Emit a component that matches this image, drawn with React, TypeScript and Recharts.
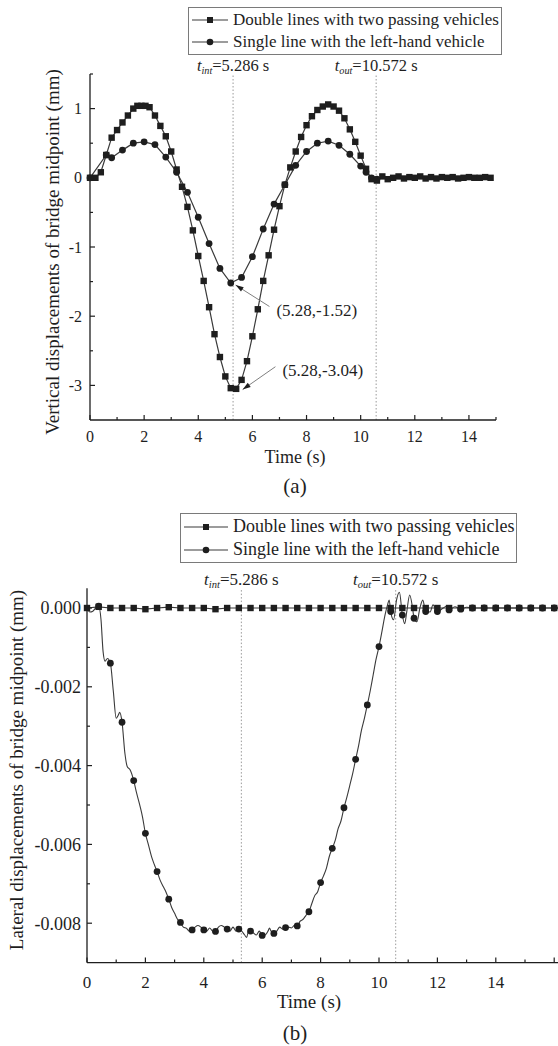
import React from 'react';
import { LineChart, Line, XAxis, YAxis, ReferenceLine, Legend } from 'recharts';

const INK = '#1e1e1e';
const LINE = '#3a3a3a';
const FONT = '"Liberation Serif", "Times New Roman", serif';

const seriesNames = ['Double lines with two passing vehicles', 'Single line with the left-hand vehicle'];
const tIn = 5.286;
const tOut = 10.572;

// (a) vertical displacement of bridge midpoint, mm
const doubleA = [
  { t: 0, v: 0 }, { t: 0.2, v: 0 }, { t: 0.4, v: 0.08 }, { t: 0.6, v: 0.33 }, { t: 0.8, v: 0.58 },
  { t: 1.0, v: 0.69 }, { t: 1.2, v: 0.8 }, { t: 1.4, v: 0.9 }, { t: 1.6, v: 1.0 }, { t: 1.75, v: 1.04 },
  { t: 1.9, v: 1.04 }, { t: 2.05, v: 1.04 }, { t: 2.2, v: 1.02 }, { t: 2.4, v: 0.9 }, { t: 2.6, v: 0.75 },
  { t: 2.8, v: 0.6 }, { t: 3.0, v: 0.38 }, { t: 3.2, v: 0.12 }, { t: 3.4, v: -0.13 }, { t: 3.6, v: -0.42 },
  { t: 3.8, v: -0.76 }, { t: 4.0, v: -1.13 }, { t: 4.2, v: -1.49 }, { t: 4.4, v: -1.87 }, { t: 4.6, v: -2.26 },
  { t: 4.8, v: -2.59 }, { t: 5.0, v: -2.87 }, { t: 5.2, v: -3.04 }, { t: 5.4, v: -3.05 }, { t: 5.6, v: -2.92 },
  { t: 5.8, v: -2.65 }, { t: 6.0, v: -2.29 }, { t: 6.2, v: -1.9 }, { t: 6.4, v: -1.49 }, { t: 6.6, v: -1.12 },
  { t: 6.8, v: -0.75 }, { t: 7.0, v: -0.41 }, { t: 7.2, v: -0.1 }, { t: 7.4, v: 0.15 }, { t: 7.6, v: 0.38 },
  { t: 7.8, v: 0.59 }, { t: 8.0, v: 0.76 }, { t: 8.2, v: 0.89 }, { t: 8.4, v: 0.98 }, { t: 8.6, v: 1.03 },
  { t: 8.8, v: 1.06 }, { t: 9.0, v: 1.03 }, { t: 9.2, v: 0.97 }, { t: 9.4, v: 0.86 }, { t: 9.6, v: 0.7 },
  { t: 9.8, v: 0.52 }, { t: 10.0, v: 0.32 }, { t: 10.2, v: 0.13 }, { t: 10.4, v: -0.02 }, { t: 10.6, v: -0.04 },
  { t: 10.8, v: 0.02 }, { t: 11.0, v: -0.02 }, { t: 11.2, v: 0 }, { t: 11.4, v: 0.02 }, { t: 11.6, v: -0.01 },
  { t: 11.8, v: 0.01 }, { t: 12.0, v: 0 }, { t: 12.2, v: 0.02 }, { t: 12.4, v: -0.01 }, { t: 12.6, v: 0.01 },
  { t: 12.8, v: -0.01 }, { t: 13.0, v: 0.01 }, { t: 13.2, v: 0 }, { t: 13.4, v: 0.01 }, { t: 13.6, v: -0.01 },
  { t: 13.8, v: 0 }, { t: 14.0, v: 0.01 }, { t: 14.2, v: 0 }, { t: 14.4, v: 0 }, { t: 14.6, v: 0.01 },
  { t: 14.8, v: 0 },
];

const singleA = [
  { t: 0, v: 0 }, { t: 0.6, v: 0.33 }, { t: 0.8, v: 0.29 }, { t: 1.2, v: 0.4 }, { t: 1.6, v: 0.5 },
  { t: 2.0, v: 0.52 }, { t: 2.4, v: 0.48 }, { t: 2.8, v: 0.3 }, { t: 3.2, v: 0.08 }, { t: 3.6, v: -0.21 },
  { t: 4.0, v: -0.57 }, { t: 4.4, v: -0.95 }, { t: 4.8, v: -1.31 }, { t: 5.2, v: -1.52 }, { t: 5.6, v: -1.44 },
  { t: 6.0, v: -1.14 }, { t: 6.4, v: -0.74 }, { t: 6.8, v: -0.38 }, { t: 7.2, v: -0.1 }, { t: 7.6, v: 0.18 },
  { t: 8.0, v: 0.38 }, { t: 8.4, v: 0.5 }, { t: 8.8, v: 0.53 }, { t: 9.2, v: 0.47 }, { t: 9.6, v: 0.34 },
  { t: 10.0, v: 0.17 }, { t: 10.2, v: 0.08 }, { t: 10.4, v: 0 }, { t: 10.6, v: -0.02 },
];

// (b) lateral displacement of bridge midpoint, mm
const doubleB = [
  { t: 0, v: 0 }, { t: 0.4, v: 0.00003 }, { t: 0.8, v: 0 }, { t: 1.2, v: 0 }, { t: 1.6, v: 0 },
  { t: 2.0, v: -0.00003 }, { t: 2.4, v: 0 }, { t: 2.8, v: 0.00002 }, { t: 3.2, v: 0 }, { t: 3.6, v: 0 },
  { t: 4.0, v: 0 }, { t: 4.4, v: -0.00003 }, { t: 4.8, v: 0 }, { t: 5.2, v: 0 }, { t: 5.6, v: 0 },
  { t: 6.0, v: 0 }, { t: 6.4, v: 0 }, { t: 6.8, v: 0 }, { t: 7.2, v: 0 }, { t: 7.6, v: 0 },
  { t: 8.0, v: 0 }, { t: 8.4, v: 0 }, { t: 8.8, v: 0 }, { t: 9.2, v: 0 }, { t: 9.6, v: 0 },
  { t: 10.0, v: 0 }, { t: 10.4, v: 0 }, { t: 10.8, v: 0 }, { t: 11.2, v: 0 }, { t: 11.6, v: 0 },
  { t: 12.0, v: 0 }, { t: 12.4, v: 0 }, { t: 12.8, v: 0 }, { t: 13.2, v: 0 }, { t: 13.6, v: 0 },
  { t: 14.0, v: 0 }, { t: 14.4, v: 0 }, { t: 14.8, v: 0 }, { t: 15.2, v: 0 }, { t: 15.6, v: 0 },
  { t: 16.0, v: 0 }, { t: 16.4, v: 0 },
];

const singleTraceB = [
  { t: 0, v: 0 }, { t: 0.1, v: -0.0001 }, { t: 0.2, v: -0.00008 }, { t: 0.3, v: 0 }, { t: 0.4, v: 0.00005 },
  { t: 0.48, v: -0.0003 }, { t: 0.55, v: -0.0011 }, { t: 0.62, v: -0.00135 }, { t: 0.7, v: -0.00128 },
  { t: 0.8, v: -0.0014 }, { t: 0.9, v: -0.0021 }, { t: 1.0, v: -0.0028 }, { t: 1.07, v: -0.00272 },
  { t: 1.12, v: -0.00265 }, { t: 1.2, v: -0.0029 }, { t: 1.3, v: -0.0037 }, { t: 1.38, v: -0.00403 },
  { t: 1.47, v: -0.0041 }, { t: 1.6, v: -0.00438 }, { t: 1.7, v: -0.0047 }, { t: 1.82, v: -0.00504 },
  { t: 1.9, v: -0.0053 }, { t: 2.0, v: -0.00572 }, { t: 2.1, v: -0.006 }, { t: 2.21, v: -0.00631 },
  { t: 2.3, v: -0.0065 }, { t: 2.4, v: -0.00669 }, { t: 2.5, v: -0.0069 }, { t: 2.61, v: -0.00707 },
  { t: 2.7, v: -0.0072 }, { t: 2.8, v: -0.00739 }, { t: 2.9, v: -0.0076 }, { t: 3.0, v: -0.00775 },
  { t: 3.1, v: -0.0079 }, { t: 3.2, v: -0.00798 }, { t: 3.3, v: -0.0081 }, { t: 3.41, v: -0.00813 },
  { t: 3.5, v: -0.0082 }, { t: 3.6, v: -0.00817 }, { t: 3.7, v: -0.0081 }, { t: 3.8, v: -0.00806 },
  { t: 3.9, v: -0.0081 }, { t: 4.0, v: -0.00817 }, { t: 4.1, v: -0.0082 }, { t: 4.2, v: -0.00812 },
  { t: 4.3, v: -0.0082 }, { t: 4.4, v: -0.00821 }, { t: 4.5, v: -0.0081 }, { t: 4.6, v: -0.00806 },
  { t: 4.7, v: -0.0081 }, { t: 4.8, v: -0.00815 }, { t: 4.9, v: -0.0082 }, { t: 5.0, v: -0.0081 },
  { t: 5.1, v: -0.0082 }, { t: 5.2, v: -0.00815 }, { t: 5.3, v: -0.0082 }, { t: 5.4, v: -0.0083 },
  { t: 5.47, v: -0.00836 }, { t: 5.53, v: -0.0082 }, { t: 5.6, v: -0.0082 }, { t: 5.7, v: -0.00825 },
  { t: 5.8, v: -0.0083 }, { t: 5.9, v: -0.0082 }, { t: 6.0, v: -0.00831 }, { t: 6.1, v: -0.0083 },
  { t: 6.2, v: -0.0082 }, { t: 6.25, v: -0.00812 }, { t: 6.3, v: -0.0082 }, { t: 6.4, v: -0.00826 },
  { t: 6.5, v: -0.0082 }, { t: 6.6, v: -0.0081 }, { t: 6.7, v: -0.00815 }, { t: 6.8, v: -0.00811 },
  { t: 6.9, v: -0.0081 }, { t: 7.0, v: -0.00812 }, { t: 7.1, v: -0.00806 }, { t: 7.2, v: -0.00807 },
  { t: 7.3, v: -0.00795 }, { t: 7.4, v: -0.0079 }, { t: 7.5, v: -0.0078 }, { t: 7.6, v: -0.00771 },
  { t: 7.7, v: -0.0075 }, { t: 7.8, v: -0.0073 }, { t: 7.9, v: -0.0072 }, { t: 8.0, v: -0.00697 },
  { t: 8.1, v: -0.0068 }, { t: 8.2, v: -0.0066 }, { t: 8.3, v: -0.0063 }, { t: 8.4, v: -0.0061 },
  { t: 8.5, v: -0.0059 }, { t: 8.6, v: -0.0056 }, { t: 8.7, v: -0.0054 }, { t: 8.8, v: -0.00507 },
  { t: 8.9, v: -0.0048 }, { t: 9.0, v: -0.0045 }, { t: 9.1, v: -0.0042 }, { t: 9.2, v: -0.00384 },
  { t: 9.3, v: -0.0035 }, { t: 9.4, v: -0.0031 }, { t: 9.5, v: -0.0028 }, { t: 9.6, v: -0.00246 },
  { t: 9.7, v: -0.0021 }, { t: 9.8, v: -0.0017 }, { t: 9.9, v: -0.0013 }, { t: 10.0, v: -0.00098 },
  { t: 10.1, v: -0.0006 }, { t: 10.2, v: -0.0002 }, { t: 10.3, v: 0.0001 }, { t: 10.35, v: 0.0002 },
  { t: 10.4, v: -0.00009 }, { t: 10.5, v: -0.0003 }, { t: 10.6, v: 0.0002 }, { t: 10.7, v: 0.0004 },
  { t: 10.8, v: -0.00018 }, { t: 10.88, v: -0.0004 }, { t: 10.95, v: -0.0001 }, { t: 11.05, v: 0.00033 },
  { t: 11.15, v: 0 }, { t: 11.2, v: -0.00026 }, { t: 11.3, v: -0.00035 }, { t: 11.4, v: 0 },
  { t: 11.5, v: 0.0002 }, { t: 11.6, v: -0.00009 }, { t: 11.75, v: -0.0001 }, { t: 11.85, v: 0.00008 },
  { t: 12.0, v: -0.00009 }, { t: 12.2, v: 0 }, { t: 12.35, v: 0.00006 }, { t: 12.4, v: -0.00005 },
  { t: 12.6, v: 0.00003 }, { t: 12.8, v: -0.00003 }, { t: 13.0, v: 0.00002 }, { t: 13.2, v: 0 },
  { t: 16.4, v: 0 },
];

const singleDotsB = [
  { t: 0.4, v: 0.00005 }, { t: 0.8, v: -0.0014 }, { t: 1.2, v: -0.0029 }, { t: 1.6, v: -0.00438 },
  { t: 2.0, v: -0.00572 }, { t: 2.4, v: -0.00669 }, { t: 2.8, v: -0.00739 }, { t: 3.2, v: -0.00798 },
  { t: 3.6, v: -0.00817 }, { t: 4.0, v: -0.00817 }, { t: 4.4, v: -0.00821 }, { t: 4.8, v: -0.00815 },
  { t: 5.2, v: -0.00815 }, { t: 5.6, v: -0.0082 }, { t: 6.0, v: -0.00831 }, { t: 6.4, v: -0.00826 },
  { t: 6.8, v: -0.00811 }, { t: 7.2, v: -0.00807 }, { t: 7.6, v: -0.00771 }, { t: 8.0, v: -0.00697 },
  { t: 8.4, v: -0.0061 }, { t: 8.8, v: -0.00507 }, { t: 9.2, v: -0.00384 }, { t: 9.6, v: -0.00246 },
  { t: 10.0, v: -0.00098 }, { t: 10.4, v: -0.00009 }, { t: 10.8, v: -0.00018 }, { t: 11.2, v: -0.00026 },
  { t: 11.6, v: -0.00009 }, { t: 12.0, v: -0.00009 }, { t: 12.4, v: -0.00005 }, { t: 12.8, v: -0.00003 },
  { t: 13.2, v: 0 }, { t: 13.6, v: 0 }, { t: 14.0, v: 0 }, { t: 14.4, v: 0 }, { t: 14.8, v: 0 },
  { t: 15.2, v: 0 }, { t: 15.6, v: 0 }, { t: 16.0, v: 0 }, { t: 16.4, v: 0 },
];

const xTicksA = [0, 1, 2, 3, 4, 5, 6, 7, 8, 9, 10, 11, 12, 13, 14, 15];
const xTicksB = [0, 1, 2, 3, 4, 5, 6, 7, 8, 9, 10, 11, 12, 13, 14, 15, 16];
const yTicksA = [-3, -2.5, -2, -1.5, -1, -0.5, 0, 0.5, 1, 1.5];
const yTicksB = [-0.008, -0.007, -0.006, -0.005, -0.004, -0.003, -0.002, -0.001, 0];

const Square = (p: any) =>
  p.cx == null ? <g key={p.index} /> : <rect key={p.index} x={p.cx - 3.2} y={p.cy - 3.2} width={6.4} height={6.4} fill={INK} />;
const Round = (p: any) =>
  p.cx == null ? <g key={p.index} /> : <circle key={p.index} cx={p.cx} cy={p.cy} r={3.4} fill={INK} />;

const XTick = ({ x, y, payload, fs, maxLabel, dy }: any) => {
  const major = payload.value % 2 === 0;
  return (
    <g>
      <line x1={x} x2={x} y1={y} y2={y - (major ? 5 : 3)} stroke={INK} strokeWidth={1.2} />
      {major && payload.value <= maxLabel && (
        <text x={x} y={y + dy} textAnchor="middle" fontSize={fs} fontFamily={FONT} fill={INK}>{payload.value}</text>
      )}
    </g>
  );
};

const YTick = ({ x, y, payload, fs, step, digits, gap }: any) => {
  const major = Math.abs(Math.round(payload.value / step)) % 2 === 0;
  const label = payload.value === 0 ? (0).toFixed(digits) : payload.value.toFixed(digits);
  return (
    <g>
      <line x1={x} x2={x + (major ? 5 : 3)} y1={y} y2={y} stroke={INK} strokeWidth={1.2} />
      {major && (
        <text x={x - gap} y={y} dy={fs * 0.35} textAnchor="end" fontSize={fs} fontFamily={FONT} fill={INK}>{label}</text>
      )}
    </g>
  );
};

const TLabel = ({ viewBox, sub, text, fs }: any) => (
  <text x={viewBox.x} y={viewBox.y - 3} textAnchor="middle" fontSize={fs} fontFamily={FONT} fill={INK}>
    <tspan fontStyle="italic">t</tspan>
    <tspan fontStyle="italic" fontSize={fs * 0.62} dy={3}>{sub}</tspan>
    <tspan dy={-3}>{text}</tspan>
  </text>
);

const XTitle = ({ cx, baseY, fs }: any) => (
  <text x={cx} y={baseY} textAnchor="middle" fontSize={fs} fontFamily={FONT} fill={INK}>Time (s)</text>
);

const YTitle = ({ cx, cy, fs, text }: any) => (
  <text x={cx} y={cy} transform={`rotate(-90 ${cx} ${cy})`} textAnchor="middle" dy={fs * 0.35} fontSize={fs} fontFamily={FONT} fill={INK}>{text}</text>
);

const Arrow = (p: any) => {
  const { x1, y1, x2, y2, text } = p;
  const a = Math.atan2(y2 - y1, x2 - x1);
  const bx = x2 - 8 * Math.cos(a);
  const by = y2 - 8 * Math.sin(a);
  const pts = `${x2},${y2} ${bx + 2.6 * Math.sin(a)},${by - 2.6 * Math.cos(a)} ${bx - 2.6 * Math.sin(a)},${by + 2.6 * Math.cos(a)}`;
  return (
    <g>
      <line x1={x1} y1={y1} x2={x2} y2={y2} stroke="#808080" strokeWidth={1} />
      <polygon points={pts} fill={INK} />
      <text x={x1 + 7} y={y1 + 9} fontSize={17} fontFamily={FONT} fill={INK}>{text}</text>
    </g>
  );
};

const LegendBox = ({ payload, fs, lineW, rowH }: any) => (
  <div style={{ border: '1px solid #7a7a7a', background: '#fff', padding: '1px 2px 1px 3px', fontSize: fs, color: INK, lineHeight: `${rowH}px`, whiteSpace: 'nowrap', fontFamily: FONT }}>
    {(payload || []).filter((e: any) => seriesNames.includes(e.value)).map((e: any, i: number) => (
      <div key={i} style={{ display: 'flex', alignItems: 'center', height: rowH }}>
        <svg width={lineW} height={10} style={{ marginRight: 5, flex: 'none' }}>
          <line x1={0} x2={lineW} y1={5} y2={5} stroke={LINE} strokeWidth={1.2} />
          {e.value === seriesNames[0]
            ? <rect x={lineW / 2 - 3} y={2} width={6} height={6} fill={INK} />
            : <circle cx={lineW / 2} cy={5} r={3.3} fill={INK} />}
        </svg>
        <span>{e.value}</span>
      </div>
    ))}
  </div>
);

const Caption = ({ text, cx, top }: any) => (
  <div style={{ position: 'absolute', left: cx - 30, width: 60, top, textAlign: 'center', fontSize: 21, lineHeight: '24px', color: INK }}>{text}</div>
);

const App = () => (
  <div style={{ position: 'absolute', left: 0, top: 0, width: 558, height: 1046, overflow: 'hidden', background: '#fff', fontFamily: FONT }}>
    <div style={{ position: 'absolute', left: 0, top: 0 }}>
      <LineChart width={558} height={470} margin={{ top: 74, right: 62, bottom: 0, left: 0 }}>
        <XAxis
          type="number" dataKey="t" domain={[0, 15]} ticks={xTicksA} interval={0} height={50}
          tickSize={0} tickMargin={0} tickLine={false} stroke={INK} strokeWidth={1.3}
          tick={<XTick fs={16} maxLabel={14} dy={22} />}
          label={<XTitle cx={295} baseY={463} fs={18} />}
        />
        <YAxis
          type="number" dataKey="v" domain={[-3.5, 1.5]} ticks={yTicksA} interval={0} width={90}
          tickSize={0} tickMargin={0} tickLine={false} stroke={INK} strokeWidth={1.3}
          tick={<YTick fs={16} step={0.5} digits={0} gap={8} />}
          label={<YTitle cx={52} cy={252} fs={19} text="Vertical displacements of bridge midpoint (mm)" />}
        />
        <ReferenceLine x={tIn} stroke="#9a9a9a" strokeDasharray="1.5 2" label={<TLabel sub="int" text="=5.286 s" fs={16.5} />} />
        <ReferenceLine x={tOut} stroke="#9a9a9a" strokeDasharray="1.5 2" label={<TLabel sub="out" text="=10.572 s" fs={16.5} />} />
        <Legend
          layout="vertical" align="center" verticalAlign="middle"
          wrapperStyle={{ left: 188, top: 7 }}
          content={(p: any) => <LegendBox payload={p.payload} fs={17} lineW={36} rowH={22} />}
        />
        <Line data={doubleA} dataKey="v" name={seriesNames[0]} type="linear" stroke={LINE} strokeWidth={1.2} dot={Square} activeDot={false} isAnimationActive={false} />
        <Line data={singleA} dataKey="v" name={seriesNames[1]} type="linear" stroke={LINE} strokeWidth={1.2} dot={Round} activeDot={false} isAnimationActive={false} />
        <ReferenceLine segment={[{ x: 6.63, y: -1.86 }, { x: 5.38, y: -1.55 }]} shape={(p: any) => <Arrow {...p} text="(5.28,-1.52)" />} />
        <ReferenceLine segment={[{ x: 6.85, y: -2.73 }, { x: 5.64, y: -3.06 }]} shape={(p: any) => <Arrow {...p} text="(5.28,-3.04)" />} />
      </LineChart>
    </div>
    <Caption text="(a)" cx={295} top={474} />

    <div style={{ position: 'absolute', left: 0, top: 500 }}>
      <LineChart width={575} height={530} margin={{ top: 88.3, right: 6.2, bottom: 0, left: 0 }}>
        <XAxis
          type="number" dataKey="t" domain={[0, 16.5]} ticks={xTicksB} interval={0} height={67.4}
          tickSize={0} tickMargin={0} tickLine={false} stroke={INK} strokeWidth={1.3}
          tick={<XTick fs={17} maxLabel={14} dy={25} />}
          label={<XTitle cx={309} baseY={508} fs={19} />}
        />
        <YAxis
          type="number" dataKey="v" domain={[-0.009, 0.0005]} ticks={yTicksB} interval={0} width={87}
          tickSize={0} tickMargin={0} tickLine={false} stroke={INK} strokeWidth={1.3}
          tick={<YTick fs={18} step={0.001} digits={3} gap={6} />}
          label={<YTitle cx={16} cy={270} fs={19} text="Lateral displacements of bridge midpoint (mm)" />}
        />
        <ReferenceLine x={tIn} stroke="#9a9a9a" strokeDasharray="1.5 2" label={<TLabel sub="int" text="=5.286 s" fs={17} />} />
        <ReferenceLine x={tOut} stroke="#9a9a9a" strokeDasharray="1.5 2" label={<TLabel sub="out" text="=10.572 s" fs={17} />} />
        <Legend
          layout="vertical" align="center" verticalAlign="middle"
          wrapperStyle={{ left: 180, top: 13 }}
          content={(p: any) => <LegendBox payload={p.payload} fs={18} lineW={44} rowH={23} />}
        />
        <Line data={doubleB} dataKey="v" name={seriesNames[0]} type="linear" stroke={LINE} strokeWidth={1.2} dot={Square} activeDot={false} isAnimationActive={false} />
        <Line data={singleTraceB} dataKey="v" name={seriesNames[1]} type="monotone" stroke={LINE} strokeWidth={1.1} dot={false} activeDot={false} isAnimationActive={false} />
        <Line data={singleDotsB} dataKey="v" name="markers" legendType="none" stroke="none" dot={Round} activeDot={false} isAnimationActive={false} />
      </LineChart>
    </div>
    <Caption text="(b)" cx={295} top={1021} />
  </div>
);

export default App;
